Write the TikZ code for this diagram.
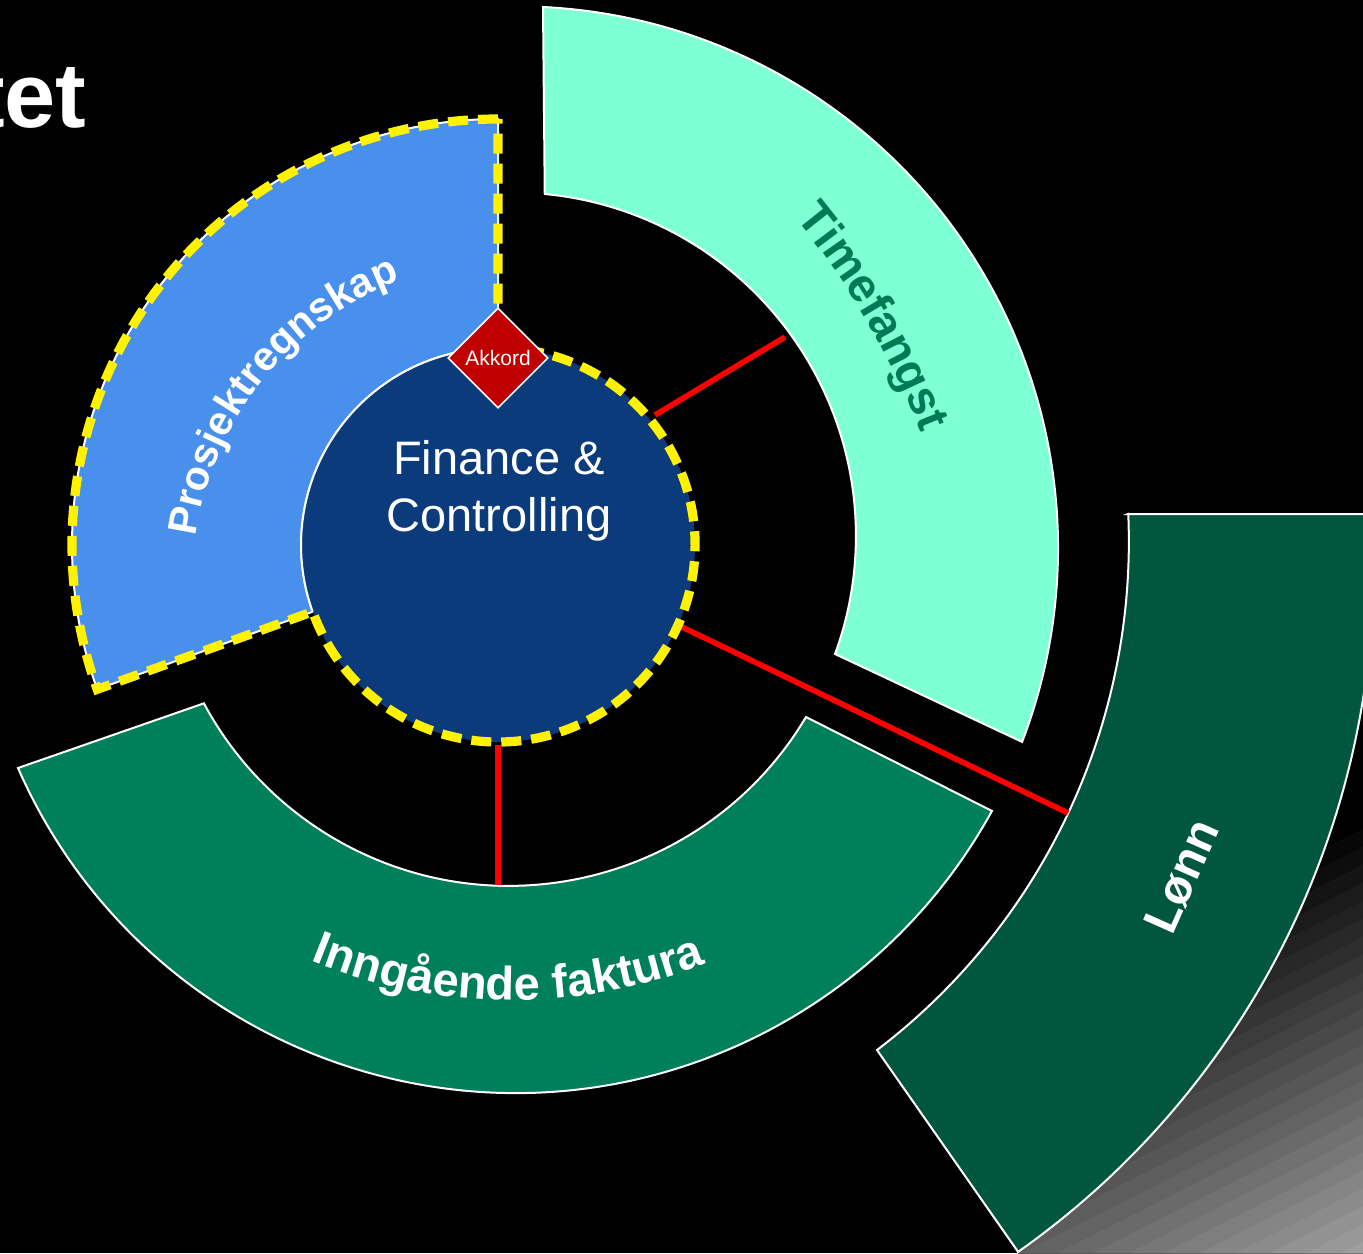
\documentclass[tikz,border=0pt]{standalone}
\usepackage{fontspec}
\setmainfont{Liberation Sans}
\usetikzlibrary{shapes.geometric,decorations.text}

\definecolor{projblue}{RGB}{73,144,237}
\definecolor{corenavy}{RGB}{11,59,123}
\definecolor{timeaqua}{RGB}{127,255,212}
\definecolor{invgreen}{RGB}{0,128,90}
\definecolor{paydark}{RGB}{0,87,62}
\definecolor{akkordred}{RGB}{192,0,0}
\definecolor{timetext}{RGB}{0,122,85}

\begin{document}
\begin{tikzpicture}[x=0.5pt,y=-0.5pt,
    ring/.style={draw=white,line width=1pt},
    spoke/.style={draw=red,line width=2.8pt},
    arclabel/.style={decorate,decoration={text along path,text align=center,text color=white}}]

        %Background
        \useasboundingbox (0,0) rectangle (1363,1253);
        \fill[black] (0,0) rectangle (1363,1253);

        %Shape: grey corner gradient
        \begin{scope}
            \clip (1018,1253) -- (877,1050) -- (1363,700) -- (1363,1253) -- cycle;
            \foreach \i in {0,...,24}{
                \pgfmathsetmacro{\p}{1335+16*\i}
                \pgfmathsetmacro{\w}{2.6*\i}
                \fill[white!\w!black] ({(\p-1115.2)/0.45},1253) -- (1363,{(\p-613.4)/0.89}) -- (1363,1253) -- cycle;
            }
        \end{scope}

        %Shape: Block Arc [Lønn]
        \draw[ring,fill=paydark] (1128,514) -- (1372,514) arc[start angle=-3.55,end angle=54.8,radius=839.4] -- (877,1050) arc[start angle=52.7,end angle=-2.48,radius=639.2] -- cycle;
        %Shape: Block Arc [Inngående faktura]
        \draw[ring,fill=invgreen] (18,768) arc[start angle=156.3,end angle=28.75,radius=543.4] -- (806,717) arc[start angle=30.8,end angle=151.8,radius=346] -- cycle;
        %Shape: Block Arc [Timefangst]
        \draw[ring,fill=timeaqua] (543,7) arc[start angle=-87.2,end angle=21,radius=541.5] -- (835,654) arc[start angle=20.1,end angle=-84.6,radius=343.5] -- cycle;
        %Shape: Block Arc [Prosjektregnskap]
        \draw[ring,fill=projblue] (498,119) arc[start angle=-90,end angle=-199.8,radius=426] -- (312.7,611.7) arc[start angle=160.2,end angle=270,radius=197] -- cycle;

        %Shape: Circle
        \fill[corenavy] (498,545) circle[radius=197];
        \draw[white,line width=1pt] (312.7,611.7) arc[start angle=160.2,end angle=270,radius=197];

        %Straight Lines
        \coordinate (s1a) at (655,415);
        \coordinate (s1b) at (785,337);
        \coordinate (s2a) at (682,627);
        \coordinate (s2b) at (1068,813);
        \coordinate (s3a) at (498,745);
        \coordinate (s3b) at (498,885);
        \draw[spoke] (s1a) -- (s1b);
        \draw[spoke] (s2a) -- (s2b);
        \draw[spoke] (s3a) -- (s3b);

        %Shape: yellow dashed outline
        \draw[yellow,line width=4.6pt,dash pattern=on 10pt off 5pt] (498,119) arc[start angle=-90,end angle=-199.8,radius=426] -- (312.7,611.7) arc[start angle=160.2,end angle=-90,radius=197] -- cycle;

        % Diamond Node
        \node[diamond,aspect=1,fill=akkordred,draw=white,line width=0.8pt,minimum width=50pt,minimum height=50pt,inner sep=0pt,text=white,font=\fontsize{10.5}{12}\selectfont] (akkord) at (498,358) {Akkord};

        % Text Node
        \node[text=white,align=center,inner sep=0pt,font=\fontsize{23.5}{28.5}\selectfont] (fc) at (499,491) {Finance \&\\Controlling};
        % Text Node
        \node[anchor=base east,text=white,inner sep=0pt,font=\fontsize{46}{55}\selectfont\bfseries] (title) at (87,127) {tet};
        % Text Node
        \node[rotate=66,text=white,inner sep=0pt,font=\fontsize{24}{29}\selectfont\bfseries] (lonn) at (1182,876) {Lønn};

        % Arc Text
        \path[arclabel,decoration={text={|\fontsize{20.5}{25}\selectfont\bfseries|Prosjektregnskap}}] (223.2,717.1) arc[start angle=-205,end angle=-78,radius=322];
        % Arc Text
        \path[arclabel,decoration={text color=timetext,text={|\fontsize{23.5}{28}\selectfont\bfseries|Timefangst}}] (573.9,32.2) arc[start angle=-60.6,end angle=0,radius=786];
        % Arc Text
        \path[arclabel,decoration={text={|\fontsize{23.5}{28}\selectfont\bfseries|Inngående faktura}}] (168.3,873.5) arc[start angle=130.45,end angle=50.45,radius=530];

\end{tikzpicture}
\end{document}
